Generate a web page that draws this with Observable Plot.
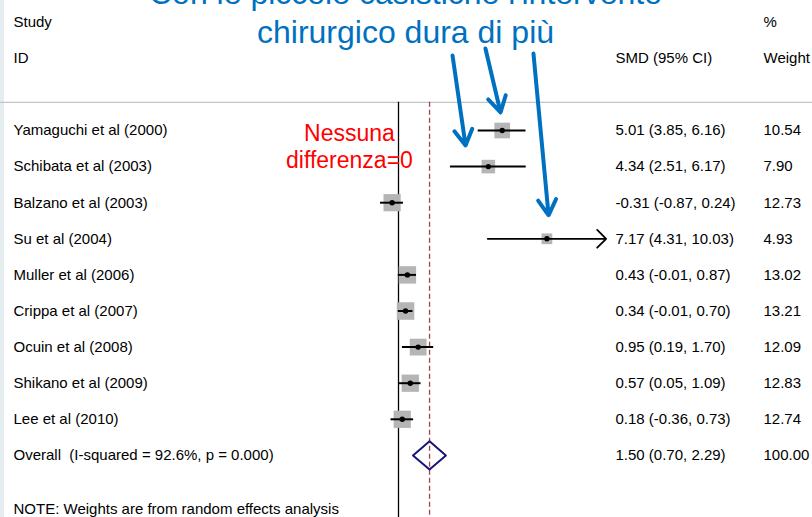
<!DOCTYPE html>
<html>
<head>
<meta charset="utf-8">
<script src="https://cdn.jsdelivr.net/npm/d3@7"></script>
<script src="https://cdn.jsdelivr.net/npm/@observablehq/plot@0.6"></script>
<style>
  html, body { margin: 0; padding: 0; background: #fff; }
  #chart { width: 812px; height: 517px; overflow: hidden; }
</style>
</head>
<body>
<div id="chart"></div>
<script>
// ---- data ----
const studies = ["Yamaguchi et al (2000)", "Schibata et al (2003)", "Balzano et al (2003)", "Su et al (2004)",
  "Muller et al (2006)", "Crippa et al (2007)", "Ocuin et al (2008)", "Shikano et al (2009)", "Lee et al (2010)"];
const smd     = [5.01, 4.34, -0.31, 7.17, 0.43, 0.34, 0.95, 0.57, 0.18];
const ciLow   = [3.85, 2.51, -0.87, 4.31, -0.01, -0.01, 0.19, 0.05, -0.36];
const ciHigh  = [6.16, 6.17, 0.24, 10.03, 0.87, 0.70, 1.70, 1.09, 0.73];
const weights = [10.54, 7.90, 12.73, 4.93, 13.02, 13.21, 12.09, 12.83, 12.74];
const overallLabel = "Overall  (I-squared = 92.6%, p = 0.000)";
const overallSmd = 1.50, overallLow = 0.70, overallHigh = 2.29, overallWeight = 100.00;
const headerTop = ["Study", "", "%"];
const headerBottom = ["ID", "SMD (95% CI)", "Weight"];
const titleLines = ["Con le piccole casistiche l'intervento", "chirurgico dura di più"];
const noEffectLines = ["Nessuna", "differenza=0"];
const noteText = "NOTE: Weights are from random effects analysis";
const axisMax = 10; // confidence limits beyond this are drawn with an arrow

// ---- derived table ----
const fmt = v => v.toFixed(2);
const rows = studies.map((s, i) => ({
  row: i, label: s, smd: smd[i], lo: ciLow[i], hi: ciHigh[i], weight: weights[i],
  ci: `${fmt(smd[i])} (${fmt(ciLow[i])}, ${fmt(ciHigh[i])})`, w: fmt(weights[i])
}));
const overall = {
  row: studies.length, label: overallLabel, smd: overallSmd, lo: overallLow, hi: overallHigh,
  ci: `${fmt(overallSmd)} (${fmt(overallLow)}, ${fmt(overallHigh)})`, w: fmt(overallWeight)
};
const tableRows = [...rows, overall];
const headers = [
  {row: -3, label: headerTop[0], ci: headerTop[1], w: headerTop[2]},
  {row: -2, label: headerBottom[0], ci: headerBottom[1], w: headerBottom[2]}
];
const dh = 0.39; // diamond half height (rows)
const diamond = [
  {x: overall.lo, y: overall.row}, {x: overall.smd, y: overall.row - dh},
  {x: overall.hi, y: overall.row}, {x: overall.smd, y: overall.row + dh},
  {x: overall.lo, y: overall.row}
];

// ---- layout ----
const ruleTop = -0.78, ruleBottom = 10.8;
const colCI = 615, colW = 763, colStudy = 13;
const callouts = [
  {x1: 2.61, y1: -2.08, x2: 3.24, y2: 0.415},
  {x1: 4.20, y1: -2.27, x2: 4.93, y2: -0.50},
  {x1: 6.52, y1: -2.13, x2: 7.25, y2: 2.35}
];

const font = "'Liberation Sans', Arial, Helvetica, sans-serif";
const chart = Plot.plot({
  width: 812, height: 517, margin: 0,
  x: {type: "linear", domain: [0, 1], range: [398, 418.7], axis: null},
  y: {type: "linear", domain: [0, 1], range: [130, 166.1], axis: null},
  r: {type: "sqrt", domain: [0, 16], range: [0, 10.9]},
  style: {fontFamily: font, fontSize: "15px", color: "black",
          background: "linear-gradient(to right, #e6edf1 0px, #e6edf1 4px, #ffffff 4px)", overflow: "hidden"},
  marks: [
    Plot.ruleY([ruleTop], {stroke: "#c4c4c4", strokeWidth: 1.2}),
    Plot.ruleX([0], {y1: ruleTop, y2: ruleBottom, stroke: "black", strokeWidth: 1.3}),
    Plot.ruleX([overall.smd], {y1: ruleTop, y2: ruleBottom, stroke: "#a5434f", strokeWidth: 1.3, strokeDasharray: "5,3"}),
    Plot.dot(rows, {x: "smd", y: "row", r: "weight", symbol: "square", fill: "#b5b5b5", stroke: "none"}),
    Plot.ruleY(rows.filter(d => d.hi <= axisMax), {y: "row", x1: "lo", x2: "hi", stroke: "black", strokeWidth: 2}),
    Plot.arrow(rows.filter(d => d.hi > axisMax), {x1: "lo", x2: "hi", y1: "row", y2: "row", stroke: "black", strokeWidth: 1.8, headAngle: 90, headLength: 10.5}),
    Plot.dot(rows, {x: "smd", y: "row", r: 2.7, fill: "black"}),
    Plot.line(diamond, {x: "x", y: "y", stroke: "#16167a", strokeWidth: 2}),
    // table text
    Plot.text([...headers, ...tableRows], {y: "row", text: "label", frameAnchor: "left", dx: colStudy, textAnchor: "start", fill: "black", fontSize: 15}),
    Plot.text([...headers, ...tableRows], {y: "row", text: "ci", frameAnchor: "left", dx: colCI, textAnchor: "start", fill: "black", fontSize: 15}),
    Plot.text([...headers, ...tableRows], {y: "row", text: "w", frameAnchor: "left", dx: colW, textAnchor: "start", fill: "black", fontSize: 15}),
    Plot.text([noteText], {y: 10.5, frameAnchor: "left", dx: colStudy, textAnchor: "start", fill: "black", fontSize: 15}),
    // annotations
    Plot.text([noEffectLines.join("\n")], {x: -2.37, y: 1.05, textAnchor: "middle", lineAnchor: "bottom", lineHeight: 1.17, fontSize: 23, fill: "#ff0000"}),
    Plot.text([titleLines.join("\n")], {frameAnchor: "top", dx: -1, dy: 42, textAnchor: "middle", lineAnchor: "bottom", lineHeight: 1.2, fontSize: 32, fill: "#0070c0"}),
    Plot.arrow(callouts, {x1: "x1", y1: "y1", x2: "x2", y2: "y2", stroke: "#0070c0", strokeWidth: 4, headAngle: 60, headLength: 6.75})
  ]
});
document.getElementById("chart").appendChild(chart);
</script>
</body>
</html>
